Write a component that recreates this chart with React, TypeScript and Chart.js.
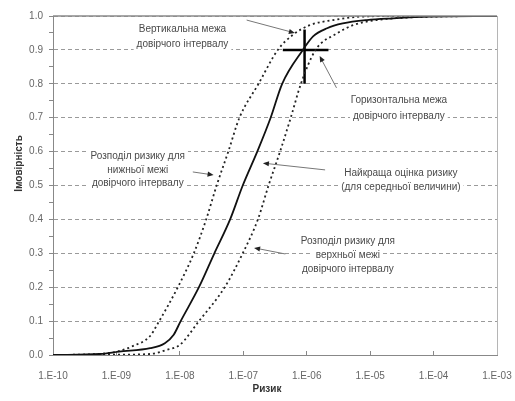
import React, { useEffect, useRef } from 'react';
import { Chart, registerables } from 'chart.js';

Chart.register(...registerables);

// Best estimate (solid)
const bestRisk = [1e-10, 5.5e-10, 1.1e-9, 3.4e-9, 5.8e-9, 8.0e-9, 1.03e-8, 2.0e-8, 3.5e-8, 6.2e-8, 9.8e-8, 1.66e-7, 2.7e-7, 4.1e-7, 8.7e-7, 1.26e-6, 2.1e-6, 3.7e-6, 8.9e-6, 2.3e-5, 8.7e-5, 1e-3];
const bestProb = [0, 0.003, 0.01, 0.02, 0.035, 0.06, 0.1, 0.2, 0.3, 0.4, 0.5, 0.6, 0.7, 0.8, 0.9, 0.94, 0.964, 0.978, 0.988, 0.993, 0.998, 1.0];

// Lower confidence bound (dotted, left)
const lowerRisk = [1e-10, 3.8e-10, 7.8e-10, 1.12e-9, 1.8e-9, 3.4e-9, 4.4e-9, 9.3e-9, 1.66e-8, 2.6e-8, 3.8e-8, 5.8e-8, 8.7e-8, 1.74e-7, 3.5e-7, 6.0e-7, 1.12e-6, 2.6e-6, 6.9e-6, 3.0e-5, 1e-3];
const lowerProb = [0, 0.002, 0.006, 0.012, 0.026, 0.056, 0.09, 0.2, 0.3, 0.4, 0.5, 0.6, 0.7, 0.8, 0.9, 0.944, 0.973, 0.988, 0.998, 1.0, 1.0];

// Upper confidence bound (dotted, right)
const upperRisk = [1e-10, 1.12e-9, 3.4e-9, 6.2e-9, 1e-8, 2.0e-8, 5.1e-8, 9.8e-8, 1.7e-7, 2.5e-7, 3.8e-7, 5.6e-7, 8.1e-7, 1.38e-6, 2.95e-6, 5.4e-6, 1.26e-5, 4.3e-5, 1.8e-4, 1e-3];
const upperProb = [0, 0.001, 0.003, 0.015, 0.03, 0.1, 0.2, 0.3, 0.4, 0.5, 0.6, 0.7, 0.8, 0.9, 0.948, 0.973, 0.988, 0.996, 0.999, 1.0];

// Confidence interval cross
const crossVRisk = [9.25e-7, 9.25e-7];
const crossVProb = [0.8, 0.96];
const crossHRisk = [4.2e-7, 2.2e-6];
const crossHProb = [0.9, 0.9];

// Axis ticks
const xTicks = [1e-10, 1e-9, 1e-8, 1e-7, 1e-6, 1e-5, 1e-4, 1e-3];
const xTickLabels = ['1.E-10', '1.E-09', '1.E-08', '1.E-07', '1.E-06', '1.E-05', '1.E-04', '1.E-03'];

const xTitle = 'Ризик';
const yTitle = 'Імовірність';

// Annotations: text block centre in data coords
const notes = [
  { lines: ['Вертикальна межа', 'довірчого інтервалу'], risk: 1.1e-8, prob: 0.9375, gap: 15 },
  { lines: ['Горизонтальна межа', 'довірчого інтервалу'], risk: 2.84e-5, prob: 0.7266, gap: 16 },
  { lines: ['Розподіл ризику для', 'нижньої межі', 'довірчого інтервалу'], risk: 2.17e-9, prob: 0.5457, gap: 13.3 },
  { lines: ['Найкраща оцінка ризику', '(для середньої величини)'], risk: 3.05e-5, prob: 0.5147, gap: 14.4 },
  { lines: ['Розподіл ризику для', 'верхньої межі', 'довірчого інтервалу'], risk: 4.45e-6, prob: 0.2941, gap: 13.8 },
];

const arrows = [
  { fromRisk: 1.13e-7, fromProb: 0.988, toRisk: 6.5e-7, toProb: 0.95 },
  { fromRisk: 2.95e-6, fromProb: 0.788, toRisk: 1.6e-6, toProb: 0.882 },
  { fromRisk: 1.6e-8, fromProb: 0.54, toRisk: 3.4e-8, toProb: 0.531 },
  { fromRisk: 1.95e-6, fromProb: 0.546, toRisk: 2.04e-7, toProb: 0.566 },
  { fromRisk: 4.6e-7, fromProb: 0.298, toRisk: 1.48e-7, toProb: 0.316 },
];

const FONT = '"Liberation Sans", Arial, sans-serif';

const toPts = (xs: number[], ys: number[]) => xs.map((x, i) => ({ x, y: ys[i] }));

const annotPlugin = {
  id: 'annot',
  afterDatasetsDraw(chart: any) {
    const { ctx, chartArea } = chart;
    const xs = chart.scales.x;
    const ys = chart.scales.y;
    ctx.save();
    // frame top and right
    ctx.setLineDash([]);
    ctx.strokeStyle = '#8a8a8a';
    ctx.lineWidth = 1.5;
    ctx.beginPath();
    ctx.moveTo(chartArea.left, chartArea.top);
    ctx.lineTo(chartArea.right, chartArea.top);
    ctx.stroke();
    ctx.strokeStyle = '#b5b5b5';
    ctx.lineWidth = 1;
    ctx.beginPath();
    ctx.moveTo(chartArea.right + 0.5, chartArea.top);
    ctx.lineTo(chartArea.right + 0.5, chartArea.bottom);
    ctx.stroke();

    // notes
    ctx.font = `10px ${FONT}`;
    ctx.textAlign = 'center';
    ctx.textBaseline = 'middle';
    for (const n of notes) {
      const cx = xs.getPixelForValue(n.risk);
      const cy = ys.getPixelForValue(n.prob);
      const total = (n.lines.length - 1) * n.gap;
      n.lines.forEach((line, i) => {
        const ly = cy - total / 2 + i * n.gap;
        const w = ctx.measureText(line).width;
        ctx.fillStyle = '#ffffff';
        ctx.fillRect(cx - w / 2 - 3, ly - 6, w + 6, 12);
        ctx.fillStyle = '#4a4a4a';
        ctx.fillText(line, cx, ly);
      });
    }

    // arrows
    for (const a of arrows) {
      const x1 = xs.getPixelForValue(a.fromRisk);
      const y1 = ys.getPixelForValue(a.fromProb);
      const x2 = xs.getPixelForValue(a.toRisk);
      const y2 = ys.getPixelForValue(a.toProb);
      const ang = Math.atan2(y2 - y1, x2 - x1);
      ctx.strokeStyle = '#777';
      ctx.lineWidth = 1;
      ctx.beginPath();
      ctx.moveTo(x1, y1);
      ctx.lineTo(x2 - 4 * Math.cos(ang), y2 - 4 * Math.sin(ang));
      ctx.stroke();
      ctx.fillStyle = '#222';
      ctx.beginPath();
      ctx.moveTo(x2, y2);
      ctx.lineTo(x2 - 6 * Math.cos(ang) + 2.6 * Math.sin(ang), y2 - 6 * Math.sin(ang) - 2.6 * Math.cos(ang));
      ctx.lineTo(x2 - 6 * Math.cos(ang) - 2.6 * Math.sin(ang), y2 - 6 * Math.sin(ang) + 2.6 * Math.cos(ang));
      ctx.closePath();
      ctx.fill();
    }

    // axis titles
    ctx.fillStyle = '#333';
    ctx.font = `bold 10px ${FONT}`;
    ctx.textAlign = 'center';
    ctx.textBaseline = 'middle';
    ctx.fillText(xTitle, chartArea.left + (chartArea.right - chartArea.left) * 0.482, chartArea.bottom + 34);
    ctx.translate(19, chartArea.top + (chartArea.bottom - chartArea.top) * 0.435);
    ctx.rotate(-Math.PI / 2);
    ctx.fillText(yTitle, 0, 0);
    ctx.restore();
  },
};

export default function App() {
  const ref = useRef<HTMLCanvasElement | null>(null);
  useEffect(() => {
    if (!ref.current) return;
    const line = { pointRadius: 0, cubicInterpolationMode: 'monotone' as const, fill: false };
    const chart = new Chart(ref.current, {
      type: 'line',
      data: {
        datasets: [
          { ...line, label: 'best', data: toPts(bestRisk, bestProb), borderColor: '#111', borderWidth: 1.8 },
          { ...line, label: 'lower', data: toPts(lowerRisk, lowerProb), borderColor: '#222', borderWidth: 1.8, borderDash: [2, 3] },
          { ...line, label: 'upper', data: toPts(upperRisk, upperProb), borderColor: '#222', borderWidth: 1.8, borderDash: [2, 3] },
          { pointRadius: 0, label: 'v', data: toPts(crossVRisk, crossVProb), borderColor: '#000', borderWidth: 2.5 },
          { pointRadius: 0, label: 'h', data: toPts(crossHRisk, crossHProb), borderColor: '#000', borderWidth: 2.5 },
        ],
      },
      options: {
        animation: false,
        responsive: false,
        maintainAspectRatio: false,
        layout: { padding: { top: 16, right: 18, left: 0, bottom: 0 } },
        plugins: { legend: { display: false }, tooltip: { enabled: false } },
        scales: {
          x: {
            type: 'logarithmic',
            min: 1e-10,
            max: 1e-3,
            afterBuildTicks: (s: any) => { s.ticks = xTicks.map((v) => ({ value: v })); },
            afterFit: (s: any) => { s.height = 46; s.paddingLeft = 0; s.paddingRight = 0; },
            ticks: {
              autoSkip: false,
              maxRotation: 0,
              padding: 19,
              color: '#666',
              font: { family: FONT, size: 10 },
              callback: (_v: any, i: number) => xTickLabels[i],
            },
            grid: { drawOnChartArea: false, tickLength: -4, tickColor: '#888', tickWidth: 1 },
            border: { color: '#888', width: 1 },
          },
          y: {
            type: 'linear',
            min: 0,
            max: 1,
            afterFit: (s: any) => { s.width = 53; s.paddingTop = 0; s.paddingBottom = 0; },
            ticks: {
              stepSize: 0.05,
              autoSkip: false,
              padding: 6,
              color: '#666',
              font: { family: FONT, size: 10 },
              callback: (v: any) => (Math.round(Number(v) * 100) % 10 === 0 ? Number(v).toFixed(1) : ''),
            },
            grid: {
              color: (c: any) => (Math.round((c.tick?.value ?? 0) * 100) % 10 === 0 ? '#9a9a9a' : 'rgba(0,0,0,0)'),
              lineWidth: 1,
              tickLength: 4,
              tickColor: '#888',
              tickBorderDash: [],
            },
            border: { color: '#888', width: 1, dash: [4, 3] },
          },
        },
      },
      plugins: [annotPlugin],
    });
    return () => chart.destroy();
  }, []);
  return (
    <div style={{ position: 'absolute', left: 0, top: 0, width: 515, height: 401, background: '#fff' }}>
      <canvas ref={ref} width={515} height={401} style={{ width: 515, height: 401 }} />
    </div>
  );
}
